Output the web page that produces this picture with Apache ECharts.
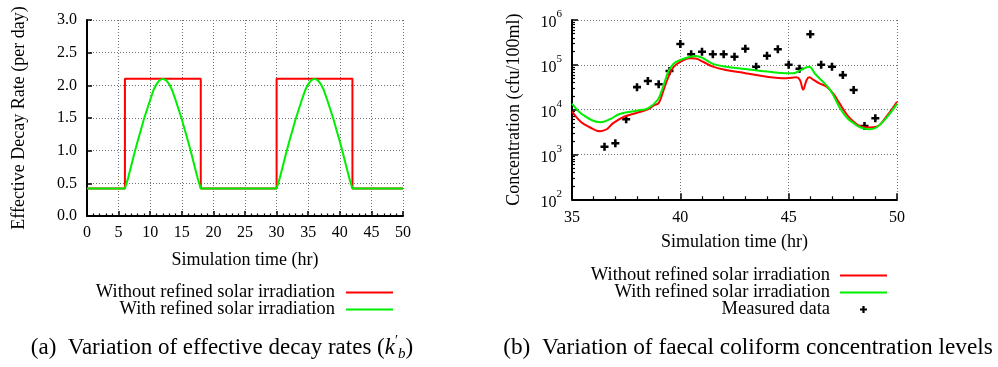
<!DOCTYPE html>
<html><head><meta charset="utf-8">
<script src="https://cdn.jsdelivr.net/npm/echarts@6/dist/echarts.min.js"></script>
<style>html,body{margin:0;padding:0;background:#fff}#c{width:998px;height:367px}</style>
</head><body><div id="c"></div>
<script>
// ---------- (a) Effective decay rate ----------
const stepTime = [0, 6, 18, 30, 42, 50];
const stepRate = [0.42, 2.1, 0.42, 2.1, 0.42, 0.42];
const curveTime = [0, 6, 6.5, 7, 7.5, 8, 8.5, 9, 9.5, 10, 10.5, 11, 11.5, 12, 12.5, 13, 13.5, 14, 14.5, 15, 15.5, 16, 16.5, 17, 17.5, 18,
  30, 30.5, 31, 31.5, 32, 32.5, 33, 33.5, 34, 34.5, 35, 35.5, 36, 36.5, 37, 37.5, 38, 38.5, 39, 39.5, 40, 40.5, 41, 41.5, 42, 50];
const curveRate = [0.42, 0.42, 0.58, 0.77, 0.96, 1.14, 1.31, 1.48, 1.63, 1.78, 1.92, 2.02, 2.08, 2.1, 2.08, 2.02, 1.92, 1.78, 1.63, 1.48, 1.31, 1.14, 0.96, 0.77, 0.58, 0.42,
  0.42, 0.58, 0.77, 0.96, 1.14, 1.31, 1.48, 1.63, 1.78, 1.92, 2.02, 2.08, 2.1, 2.08, 2.02, 1.92, 1.78, 1.63, 1.48, 1.31, 1.14, 0.96, 0.77, 0.58, 0.42, 0.42];

// ---------- (b) Faecal coliform concentration ----------
const withoutTime = [35, 35.4, 35.8, 36.3, 36.6, 36.9, 37.4, 38, 38.5, 38.8, 39, 39.2, 39.45, 39.7, 40, 40.45, 40.7, 41.05, 41.5, 42.1, 43, 44, 44.9, 45.35, 45.52, 45.67, 45.83, 45.95, 46.15, 46.4, 46.75, 47.05, 47.35, 47.7, 48, 48.3, 48.7, 49.05, 49.5, 50];
const withoutConc = [9100, 5400, 4100, 3300, 3650, 5000, 6950, 8500, 10200, 12600, 14000, 25000, 54000, 91000, 117000, 140000, 138000, 117000, 91000, 77000, 65000, 54000, 50000, 52500, 46000, 28000, 46000, 52500, 46000, 39000, 32500, 23000, 13800, 7600, 5400, 4300, 4000, 4150, 6900, 15000];
const withTime = [35, 35.5, 36.3, 36.75, 37.2, 38, 38.5, 38.95, 39.2, 39.45, 39.7, 40, 40.45, 40.7, 41.05, 41.5, 42.1, 43, 44, 44.9, 45.2, 45.5, 45.95, 46.2, 46.5, 46.8, 47.05, 47.35, 47.7, 48, 48.3, 48.7, 49.05, 49.5, 50];
const withConc = [13600, 7700, 5250, 6100, 8000, 9500, 10700, 16400, 32000, 71000, 107000, 129000, 151000, 158000, 140000, 105000, 91000, 81000, 71000, 65000, 65000, 74000, 91000, 65000, 46000, 32500, 21500, 11200, 6500, 5000, 4050, 3650, 4000, 6500, 13500];
const measuredTime = [36.5, 37, 37.5, 38, 38.5, 39, 39.5, 40, 40.5, 41, 41.5, 42, 42.5, 43, 43.5, 44, 44.5, 45, 45.5, 46, 46.5, 47, 47.5, 48, 48.5, 49];
const measuredConc = [1490, 1780, 6100, 31800, 43500, 36800, 72500, 292000, 172000, 196000, 172000, 172000, 152000, 229000, 91000, 160000, 222000, 100000, 82000, 479000, 100000, 91000, 59000, 27500, 4330, 6400];

const seriesNames = ['Without refined solar irradiation', 'With refined solar irradiation', 'Measured data'];
const axisNameX = 'Simulation time (hr)';
const axisNameA = 'Effective Decay Rate (per day)';
const axisNameB = 'Concentration (cfu/100ml)';
const captionA = ['(a)', 'Variation of effective decay rates (', 'k', '′', 'b', ')'];
const captionB = '(b)\u2002Variation of faecal coliform concentration levels';

const FONT = 'Liberation Serif';
const RED = '#ff0000', GREEN = '#00ee00';
const zip = (a, b) => a.map((v, i) => [v, b[i]]);
const plusPath = 'path://M3.4,0H6.6V3.4H10V6.6H6.6V10H3.4V6.6H0V3.4H3.4Z';
const lineIcon = 'path://M0,0H100V4.4H0Z';

const gridLine = { show: true, lineStyle: { color: '#707070', type: [1, 2], width: 1 } };
const axLine = { show: true, onZero: false, lineStyle: { color: '#000', width: 2 } };
const tickLabel = { color: '#000', fontFamily: FONT, fontSize: 16 };
const nameStyle = { color: '#000', fontFamily: FONT, fontSize: 18 };
const legendText = { fontFamily: FONT, fontSize: 18.5, lineHeight: 14, color: '#000' };

const chart = echarts.init(document.getElementById('c'), null, { renderer: 'canvas' });
chart.setOption({
  animation: false,
  backgroundColor: '#fff',
  textStyle: { fontFamily: FONT },
  grid: [
    { left: 87, top: 20, width: 316, height: 196 },
    { left: 572, top: 20, width: 325, height: 179.3 }
  ],
  xAxis: [
    { type: 'value', gridIndex: 0, min: 0, max: 50, interval: 5,
      axisLine: axLine, splitLine: gridLine,
      axisTick: { inside: true, length: 5, lineStyle: { color: '#000', width: 1.5 } },
      minorTick: { show: true, splitNumber: 5, length: 2.5, lineStyle: { color: '#000', width: 1.2 } },
      axisLabel: Object.assign({ margin: 9 }, tickLabel),
      name: axisNameX, nameLocation: 'middle', nameGap: 35, nameTextStyle: nameStyle },
    { type: 'value', gridIndex: 1, min: 35, max: 50, interval: 5,
      axisLine: axLine, splitLine: gridLine,
      axisTick: { inside: true, length: 6, lineStyle: { color: '#000', width: 1.5 } },
      minorTick: { show: true, splitNumber: 5, length: 3, lineStyle: { color: '#000', width: 1.2 } },
      axisLabel: Object.assign({ margin: 10 }, tickLabel),
      name: axisNameX, nameLocation: 'middle', nameGap: 34, nameTextStyle: nameStyle }
  ],
  yAxis: [
    { type: 'value', gridIndex: 0, min: 0, max: 3, interval: 0.5,
      axisLine: axLine, splitLine: gridLine,
      axisTick: { inside: true, length: 5, lineStyle: { color: '#000', width: 1.5 } },
      axisLabel: Object.assign({ margin: 10, formatter: v => v.toFixed(1) }, tickLabel),
      name: axisNameA, nameLocation: 'middle', nameGap: 59, nameTextStyle: nameStyle },
    { type: 'log', logBase: 10, gridIndex: 1, min: 100, max: 1000000,
      axisLine: axLine, splitLine: gridLine,
      axisTick: { inside: true, length: 6, lineStyle: { color: '#000', width: 1.5 } },
      minorTick: { show: true, splitNumber: 9, length: 3, lineStyle: { color: '#000', width: 1.2 } },
      axisLabel: { margin: 10, color: '#000', fontFamily: FONT,
        formatter: v => '{b|10}{s|' + Math.round(Math.log10(v)) + '}',
        rich: {
          b: { fontFamily: FONT, fontSize: 16, lineHeight: 16, verticalAlign: 'bottom', color: '#000' },
          s: { fontFamily: FONT, fontSize: 11, lineHeight: 22, verticalAlign: 'top', color: '#000' }
        } },
      name: axisNameB, nameLocation: 'middle', nameGap: 49, nameTextStyle: nameStyle }
  ],
  legend: [
    { data: [{ name: seriesNames[0], icon: lineIcon }, { name: seriesNames[1], icon: lineIcon }],
      orient: 'vertical', align: 'right', selectedMode: false,
      right: 605, top: 283, padding: 0, itemWidth: 47, itemHeight: 7, itemGap: -2,
      textStyle: Object.assign({ padding: [0, 6, 0, 0] }, legendText) },
    { data: [{ name: seriesNames[0], icon: lineIcon }, { name: seriesNames[1], icon: lineIcon }, { name: seriesNames[2] }],
      orient: 'vertical', align: 'right', selectedMode: false,
      right: 111, top: 266, padding: 0, itemWidth: 47, itemHeight: 7, itemGap: -2,
      textStyle: Object.assign({ padding: [0, 5, 0, 0] }, legendText) }
  ],
  series: [
    { name: seriesNames[0], type: 'line', xAxisIndex: 0, yAxisIndex: 0, step: 'end',
      data: zip(stepTime, stepRate), symbol: 'none', color: RED, lineStyle: { color: RED, width: 2 } },
    { name: seriesNames[1], type: 'line', xAxisIndex: 0, yAxisIndex: 0,
      data: zip(curveTime, curveRate), symbol: 'none', color: GREEN, lineStyle: { color: GREEN, width: 2 } },
    { name: seriesNames[0], type: 'line', xAxisIndex: 1, yAxisIndex: 1, smooth: 0.4,
      data: zip(withoutTime, withoutConc), symbol: 'none', color: RED, lineStyle: { color: RED, width: 2 } },
    { name: seriesNames[1], type: 'line', xAxisIndex: 1, yAxisIndex: 1, smooth: 0.4,
      data: zip(withTime, withConc), symbol: 'none', color: GREEN, lineStyle: { color: GREEN, width: 2 } },
    { name: seriesNames[2], type: 'scatter', xAxisIndex: 1, yAxisIndex: 1,
      data: zip(measuredTime, measuredConc), symbol: plusPath, symbolSize: 8, symbolKeepAspect: true,
      itemStyle: { color: '#000', opacity: 1 }, color: '#000' }
  ],
  graphic: [
    { type: 'text', x: 222, y: 348,
      style: { text: captionA[0] + '\u2002' + captionA[1] + '{i|' + captionA[2] + '}{p|' + captionA[3] + '}{u|' + captionA[4] + '}' + captionA[5],
        fontFamily: FONT, fontSize: 23, lineHeight: 28, fill: '#000', align: 'center', verticalAlign: 'middle',
        rich: {
          i: { fontFamily: FONT, fontSize: 23, fontStyle: 'italic', lineHeight: 28, fill: '#000' },
          p: { fontFamily: FONT, fontSize: 14, lineHeight: 14, verticalAlign: 'top', fill: '#000' },
          u: { fontFamily: FONT, fontSize: 15, fontStyle: 'italic', lineHeight: 15, verticalAlign: 'bottom', fill: '#000' }
        } } },
    { type: 'text', x: 748, y: 348,
      style: { text: captionB, fontFamily: FONT, fontSize: 23.3, fill: '#000', align: 'center', verticalAlign: 'middle' } }
  ]
});
</script></body></html>
